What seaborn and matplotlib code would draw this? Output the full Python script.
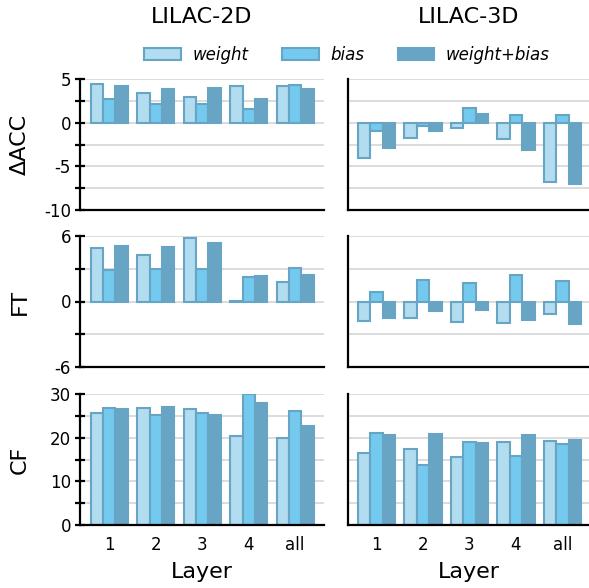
import numpy as np
import pandas as pd
import matplotlib
matplotlib.use('Agg')
import matplotlib.pyplot as plt
from matplotlib.patches import Patch
import seaborn as sns

# ---------------------------------------------------------------------------
# Data
# ---------------------------------------------------------------------------
layers = ['1', '2', '3', '4', 'all']
variants = ['weight', 'bias', 'weight+bias']
datasets = ['LILAC-2D', 'LILAC-3D']
metrics = ['ΔACC', 'FT', 'CF']

# LILAC-2D
acc_2d_weight = [4.45, 3.45, 2.95, 4.2, 4.2]
acc_2d_bias = [2.7, 2.15, 2.15, 1.6, 4.3]
acc_2d_wb = [4.25, 3.9, 4.0, 2.7, 3.85]
ft_2d_weight = [4.9, 4.25, 5.85, 0.08, 1.75]
ft_2d_bias = [2.85, 3.0, 3.0, 2.2, 3.05]
ft_2d_wb = [5.05, 4.95, 5.35, 2.35, 2.4]
cf_2d_weight = [25.6, 26.9, 26.6, 20.3, 19.9]
cf_2d_bias = [26.9, 25.3, 25.6, 29.9, 26.2]
cf_2d_wb = [26.6, 27.1, 25.2, 27.9, 22.6]

# LILAC-3D
acc_3d_weight = [-4.0, -1.75, -0.6, -1.9, -6.8]
acc_3d_bias = [-1.0, -0.4, 1.7, 0.9, 0.85]
acc_3d_wb = [-2.85, -1.0, 1.0, -3.15, -7.05]
ft_3d_weight = [-1.75, -1.5, -1.9, -1.95, -1.1]
ft_3d_bias = [0.85, 2.0, 1.65, 2.4, 1.85]
ft_3d_wb = [-1.5, -0.9, -0.75, -1.65, -2.05]
cf_3d_weight = [16.5, 17.3, 15.6, 19.1, 19.2]
cf_3d_bias = [21.1, 13.7, 19.0, 15.7, 18.5]
cf_3d_wb = [20.6, 20.8, 18.7, 20.5, 19.5]

values = {
    ('LILAC-2D', 'ΔACC'): [acc_2d_weight, acc_2d_bias, acc_2d_wb],
    ('LILAC-2D', 'FT'): [ft_2d_weight, ft_2d_bias, ft_2d_wb],
    ('LILAC-2D', 'CF'): [cf_2d_weight, cf_2d_bias, cf_2d_wb],
    ('LILAC-3D', 'ΔACC'): [acc_3d_weight, acc_3d_bias, acc_3d_wb],
    ('LILAC-3D', 'FT'): [ft_3d_weight, ft_3d_bias, ft_3d_wb],
    ('LILAC-3D', 'CF'): [cf_3d_weight, cf_3d_bias, cf_3d_wb],
}

rows = []
for (ds, met), series in values.items():
    for var, vals in zip(variants, series):
        for lay, v in zip(layers, vals):
            rows.append({'dataset': ds, 'metric': met, 'variant': var,
                         'layer': lay, 'value': v})
df = pd.DataFrame(rows)

# y-axis ticks per metric (labels only on every other tick)
yticks = {
    'ΔACC': [-10, -7.5, -5, -2.5, 0, 2.5, 5],
    'FT': [-6, -3, 0, 3, 6],
    'CF': [0, 5, 10, 15, 20, 25, 30],
}
ylabels = {
    'ΔACC': ['-10', '', '-5', '', '0', '', '5'],
    'FT': ['-6', '', '0', '', '6'],
    'CF': ['0', '', '10', '', '20', '', '30'],
}

# ---------------------------------------------------------------------------
# Style
# ---------------------------------------------------------------------------
sns.set_style('white')
plt.rcParams['font.family'] = ['DejaVu Sans']
plt.rcParams['text.color'] = 'black'
plt.rcParams['axes.labelcolor'] = 'black'
plt.rcParams['xtick.color'] = 'black'
plt.rcParams['ytick.color'] = 'black'

palette = {'weight': '#b2dcef', 'bias': '#74c9ee', 'weight+bias': '#68a4c3'}
edge = '#68a4c3'

fig = plt.figure(figsize=(5.89, 5.88), dpi=100)
W, H = 589.0, 588.0

col_left = [80 / W, 348 / W]
col_width = [244 / W, 241 / W]
col_xlim = [(-0.63, 4.62), (-0.61, 4.57)]
row_top = [79, 236, 394]
row_h = 131

for r, met in enumerate(metrics):
    for c, ds in enumerate(datasets):
        ax = fig.add_axes([col_left[c], 1 - (row_top[r] + row_h) / H,
                           col_width[c], row_h / H])
        sub = df[(df['dataset'] == ds) & (df['metric'] == met)]
        sns.barplot(data=sub, x='layer', y='value', hue='variant',
                    order=layers, hue_order=variants, palette=palette,
                    saturation=1, edgecolor=edge, linewidth=1.5,
                    errorbar=None, legend=False, ax=ax)

        ax.set_xlim(*col_xlim[c])
        ax.set_ylim(yticks[met][0], yticks[met][-1])
        ax.set_yticks(yticks[met])
        ax.set_axisbelow(True)
        ax.grid(axis='y', color='#d9d9d9', linewidth=1.3)
        ax.grid(axis='x', visible=False)

        sns.despine(ax=ax)
        for side in ['left', 'bottom']:
            ax.spines[side].set_linewidth(1.6)
            ax.spines[side].set_color('black')

        if c == 0:
            ax.set_yticklabels(ylabels[met], fontsize=12)
            ax.tick_params(axis='y', direction='inout', length=7, width=1.6,
                           left=True, pad=3)
            ax.set_ylabel(met, fontsize=16)
            ax.yaxis.set_label_coords(-0.205, 0.5)
        else:
            ax.tick_params(axis='y', left=False, labelleft=False)
            ax.set_ylabel('')

        if r == 0:
            ax.set_title(ds, fontsize=16, pad=40)

        if r == len(metrics) - 1:
            ax.tick_params(axis='x', length=0, labelsize=12, pad=8)
            ax.set_xlabel('Layer', fontsize=16, labelpad=6)
        else:
            ax.tick_params(axis='x', length=0, labelbottom=False)
            ax.set_xlabel('')

handles = [Patch(facecolor=palette[v], edgecolor=edge, linewidth=1.5)
           for v in variants]
fig.legend(handles, variants, loc='center', bbox_to_anchor=(347 / W, 1 - 55 / H),
           ncol=3, frameon=False, prop={'style': 'italic', 'size': 12},
           handlelength=2.2, handletextpad=0.7, columnspacing=2.0)

plt.savefig('out.png', dpi=100)
